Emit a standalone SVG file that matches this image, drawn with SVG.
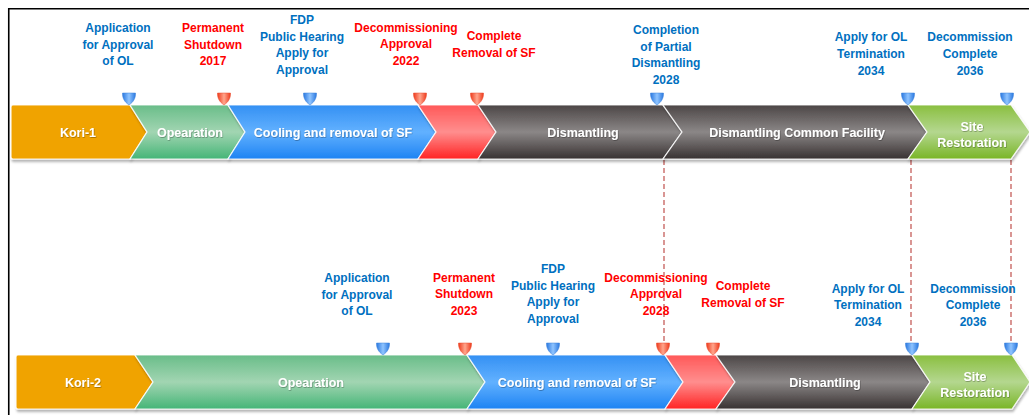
<svg xmlns="http://www.w3.org/2000/svg" xmlns:xlink="http://www.w3.org/1999/xlink" width="1029" height="415" viewBox="0 0 1029 415">
  <style>
    .lbl { font-family: "Liberation Sans", Arial, sans-serif; font-weight: bold; font-size: 12px; text-anchor: middle; }
    .blue { fill: #0070c0; }
    .red { fill: #ff0000; }
    .bar { font-family: "Liberation Sans", Arial, sans-serif; font-weight: bold; font-size: 12.5px; text-anchor: middle; fill: #ffffff; }
    .chev { stroke: #ffffff; stroke-width: 1.2; stroke-opacity: 0.85; filter: url(#shadow); }
    .dash { stroke: #c0504d; stroke-width: 1.2; stroke-dasharray: 5 3; fill: none; }
  </style>
  <defs>
    <filter id="shadow" x="-5%" y="-20%" width="110%" height="150%">
      <feDropShadow dx="1" dy="2.5" stdDeviation="1.2" flood-color="#000000" flood-opacity="0.3"/>
    </filter>
    <filter id="txtShadow" x="-10%" y="-30%" width="120%" height="160%">
      <feDropShadow dx="0.6" dy="0.8" stdDeviation="0.4" flood-color="#000000" flood-opacity="0.35"/>
    </filter>
    <linearGradient id="gGreen" x1="0" y1="0" x2="0" y2="1">
      <stop offset="0" stop-color="#69bd89"/>
      <stop offset="0.5" stop-color="#a2d5b2"/>
      <stop offset="1" stop-color="#45b577"/>
    </linearGradient>
    <linearGradient id="gBlue" x1="0" y1="0" x2="0" y2="1">
      <stop offset="0" stop-color="#3490f3"/>
      <stop offset="0.5" stop-color="#62b1ff"/>
      <stop offset="1" stop-color="#1d83f3"/>
    </linearGradient>
    <linearGradient id="gRed" x1="0" y1="0" x2="0" y2="1">
      <stop offset="0" stop-color="#ff5858"/>
      <stop offset="0.5" stop-color="#ff8e8e"/>
      <stop offset="1" stop-color="#ff2424"/>
    </linearGradient>
    <linearGradient id="gGray" x1="0" y1="0" x2="0" y2="1">
      <stop offset="0" stop-color="#4c4646"/>
      <stop offset="0.5" stop-color="#8b8787"/>
      <stop offset="1" stop-color="#383232"/>
    </linearGradient>
    <linearGradient id="gLime" x1="0" y1="0" x2="0" y2="1">
      <stop offset="0" stop-color="#8abf40"/>
      <stop offset="0.5" stop-color="#b4d78f"/>
      <stop offset="1" stop-color="#79b526"/>
    </linearGradient>
    <linearGradient id="gPinBlue" x1="0" y1="0" x2="1" y2="0">
      <stop offset="0" stop-color="#2a78e0"/>
      <stop offset="0.5" stop-color="#8fc4ff"/>
      <stop offset="1" stop-color="#2a78e0"/>
    </linearGradient>
    <linearGradient id="gPinRed" x1="0" y1="0" x2="1" y2="0">
      <stop offset="0" stop-color="#ee3a1c"/>
      <stop offset="0.5" stop-color="#ffa58c"/>
      <stop offset="1" stop-color="#ee3a1c"/>
    </linearGradient>
    <!-- milestone pins: tip sits on the top edge of the bar -->
    <path id="pinShape" d="M-6.5,-12 H6.5 C6.8,-7 4.5,-3 0,0 C-4.5,-3 -6.8,-7 -6.5,-12 Z"/>
    <use id="pinB" xlink:href="#pinShape" fill="url(#gPinBlue)" stroke="#3a80d8" stroke-width="0.5"/>
    <use id="pinR" xlink:href="#pinShape" fill="url(#gPinRed)" stroke="#e84a2c" stroke-width="0.5"/>
  </defs>

  <!-- frame edges -->
  <path d="M8.75,415 V8.75 H1029" fill="none" stroke="#000000" stroke-width="1.6"/>

  <!-- connectors: dashed guides from row 1 down to row 2 milestones -->
  <g id="connectors">
    <line class="dash" x1="664" y1="160" x2="664" y2="345"/>
    <line class="dash" x1="911" y1="160" x2="911" y2="345"/>
    <line class="dash" x1="1011" y1="160" x2="1011" y2="345"/>
  </g>

  <!-- ===== Kori-1 timeline ===== -->
  <g id="kori1">
    <path class="chev" d="M13,105 H130 L147,132 L130,159 H13 Q11,159 11,157 V107 Q11,105 13,105 Z" fill="#f0a306" stroke="none"/>
    <text class="bar" x="78" y="136.5" filter="url(#txtShadow)">Kori-1</text>
  </g>
  <g id="k1-operation">
    <path class="chev" d="M130,105 H228 L245,132 L228,159 H130 L147,132 Z" fill="url(#gGreen)"/>
    <text class="bar" x="190" y="136.5" filter="url(#txtShadow)">Opearation</text>
  </g>
  <g id="k1-cooling">
    <path class="chev" d="M228,105 H418 L436,132 L418,159 H228 L245,132 Z" fill="url(#gBlue)"/>
    <text class="bar" x="333" y="136.5" filter="url(#txtShadow)">Cooling and removal of SF</text>
  </g>
  <g id="k1-removal">
    <path class="chev" d="M418,105 H478 L496,132 L478,159 H418 L436,132 Z" fill="url(#gRed)"/>
  </g>
  <g id="k1-dismantling">
    <path class="chev" d="M478,105 H663 L682,132 L663,159 H478 L496,132 Z" fill="url(#gGray)"/>
    <text class="bar" x="583" y="136.5" filter="url(#txtShadow)">Dismantling</text>
  </g>
  <g id="k1-common">
    <path class="chev" d="M663,105 H908 L927,132 L908,159 H663 L682,132 Z" fill="url(#gGray)"/>
    <text class="bar" x="797" y="136.5" filter="url(#txtShadow)">Dismantling Common Facility</text>
  </g>
  <g id="k1-site">
    <path class="chev" d="M908,105 H1011 L1030,132 L1011,159 H908 L927,132 Z" fill="url(#gLime)"/>
    <text class="bar" x="972" y="131" filter="url(#txtShadow)">Site</text>
    <text class="bar" x="972" y="147" filter="url(#txtShadow)">Restoration</text>
  </g>

  <!-- Kori-1 milestones -->
  <g id="k1-m-ol">
    <use xlink:href="#pinB" x="129" y="105"/>
    <text class="lbl blue" x="118" y="32"><tspan x="118">Application</tspan><tspan x="118" dy="16.5">for Approval</tspan><tspan x="118" dy="16.5">of OL</tspan></text>
  </g>
  <g id="k1-m-shutdown">
    <use xlink:href="#pinR" x="224" y="105"/>
    <text class="lbl red" x="213" y="32"><tspan x="213">Permanent</tspan><tspan x="213" dy="16.5">Shutdown</tspan><tspan x="213" dy="16.5">2017</tspan></text>
  </g>
  <g id="k1-m-fdp">
    <use xlink:href="#pinB" x="310" y="105"/>
    <text class="lbl blue" x="302" y="24"><tspan x="302">FDP</tspan><tspan x="302" dy="16.6">Public Hearing</tspan><tspan x="302" dy="16.6">Apply for</tspan><tspan x="302" dy="16.6">Approval</tspan></text>
  </g>
  <g id="k1-m-approval">
    <use xlink:href="#pinR" x="420" y="105"/>
    <text class="lbl red" x="406" y="31.5"><tspan x="406">Decommissioning</tspan><tspan x="406" dy="16.5">Approval</tspan><tspan x="406" dy="16.5">2022</tspan></text>
  </g>
  <g id="k1-m-sf">
    <use xlink:href="#pinR" x="477" y="105"/>
    <text class="lbl red" x="494" y="40"><tspan x="494">Complete</tspan><tspan x="494" dy="16.8">Removal of SF</tspan></text>
  </g>
  <g id="k1-m-partial">
    <use xlink:href="#pinB" x="657" y="105"/>
    <text class="lbl blue" x="666" y="34"><tspan x="666">Completion</tspan><tspan x="666" dy="16.6">of Partial</tspan><tspan x="666" dy="16.6">Dismantling</tspan><tspan x="666" dy="16.6">2028</tspan></text>
  </g>
  <g id="k1-m-term">
    <use xlink:href="#pinB" x="908" y="105"/>
    <text class="lbl blue" x="871" y="41"><tspan x="871">Apply for OL</tspan><tspan x="871" dy="17">Termination</tspan><tspan x="871" dy="17">2034</tspan></text>
  </g>
  <g id="k1-m-complete">
    <use xlink:href="#pinB" x="1007" y="105"/>
    <text class="lbl blue" x="970" y="41"><tspan x="970">Decommission</tspan><tspan x="970" dy="17">Complete</tspan><tspan x="970" dy="17">2036</tspan></text>
  </g>

  <!-- ===== Kori-2 timeline ===== -->
  <g id="kori2">
    <path class="chev" d="M18,355 H135 L153,382 L135,409 H18 Q16,409 16,407 V357 Q16,355 18,355 Z" fill="#f0a306" stroke="none"/>
    <text class="bar" x="83" y="386.5" filter="url(#txtShadow)">Kori-2</text>
  </g>
  <g id="k2-operation">
    <path class="chev" d="M135,355 H467 L485,382 L467,409 H135 L153,382 Z" fill="url(#gGreen)"/>
    <text class="bar" x="311" y="386.5" filter="url(#txtShadow)">Opearation</text>
  </g>
  <g id="k2-cooling">
    <path class="chev" d="M467,355 H665 L683,382 L665,409 H467 L485,382 Z" fill="url(#gBlue)"/>
    <text class="bar" x="577" y="386.5" filter="url(#txtShadow)">Cooling and removal of SF</text>
  </g>
  <g id="k2-removal">
    <path class="chev" d="M665,355 H716 L735,382 L716,409 H665 L683,382 Z" fill="url(#gRed)"/>
  </g>
  <g id="k2-dismantling">
    <path class="chev" d="M716,355 H912 L930,382 L912,409 H716 L735,382 Z" fill="url(#gGray)"/>
    <text class="bar" x="825" y="386.5" filter="url(#txtShadow)">Dismantling</text>
  </g>
  <g id="k2-site">
    <path class="chev" d="M912,355 H1012 L1030,382 L1012,409 H912 L930,382 Z" fill="url(#gLime)"/>
    <text class="bar" x="975" y="381" filter="url(#txtShadow)">Site</text>
    <text class="bar" x="975" y="397" filter="url(#txtShadow)">Restoration</text>
  </g>

  <!-- Kori-2 milestones -->
  <g id="k2-m-ol">
    <use xlink:href="#pinB" x="383" y="355"/>
    <text class="lbl blue" x="357" y="282"><tspan x="357">Application</tspan><tspan x="357" dy="16.5">for Approval</tspan><tspan x="357" dy="16.5">of OL</tspan></text>
  </g>
  <g id="k2-m-shutdown">
    <use xlink:href="#pinR" x="465" y="355"/>
    <text class="lbl red" x="464" y="281.5"><tspan x="464">Permanent</tspan><tspan x="464" dy="16.5">Shutdown</tspan><tspan x="464" dy="16.5">2023</tspan></text>
  </g>
  <g id="k2-m-fdp">
    <use xlink:href="#pinB" x="553" y="355"/>
    <text class="lbl blue" x="553" y="273"><tspan x="553">FDP</tspan><tspan x="553" dy="16.6">Public Hearing</tspan><tspan x="553" dy="16.6">Apply for</tspan><tspan x="553" dy="16.6">Approval</tspan></text>
  </g>
  <g id="k2-m-approval">
    <use xlink:href="#pinR" x="663" y="355"/>
    <text class="lbl red" x="656" y="281.5"><tspan x="656">Decommissioning</tspan><tspan x="656" dy="16.5">Approval</tspan><tspan x="656" dy="16.5">2028</tspan></text>
  </g>
  <g id="k2-m-sf">
    <use xlink:href="#pinR" x="713" y="355"/>
    <text class="lbl red" x="743" y="290"><tspan x="743">Complete</tspan><tspan x="743" dy="16.8">Removal of SF</tspan></text>
  </g>
  <g id="k2-m-term">
    <use xlink:href="#pinB" x="912" y="355"/>
    <text class="lbl blue" x="868" y="292.5"><tspan x="868">Apply for OL</tspan><tspan x="868" dy="16.7">Termination</tspan><tspan x="868" dy="16.7">2034</tspan></text>
  </g>
  <g id="k2-m-complete">
    <use xlink:href="#pinB" x="1011" y="355"/>
    <text class="lbl blue" x="973" y="292.5"><tspan x="973">Decommission</tspan><tspan x="973" dy="16.7">Complete</tspan><tspan x="973" dy="16.7">2036</tspan></text>
  </g>
</svg>
